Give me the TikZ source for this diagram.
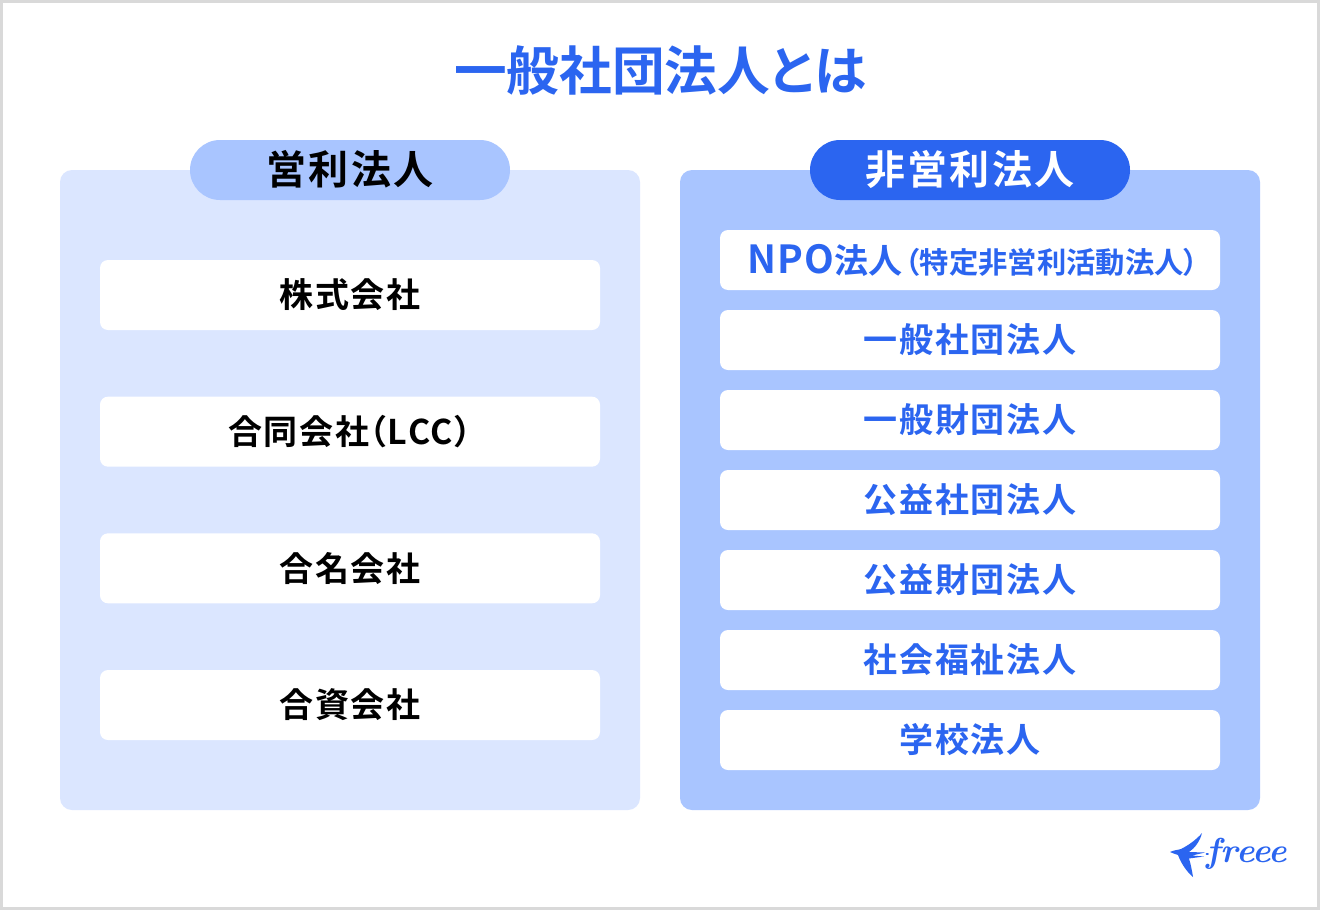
\documentclass[tikz,border=0pt]{standalone}
\usepackage{fontspec}
\setmainfont{Noto Sans CJK JP Bold}[RawFeature=+palt]
\newfontfamily\itemfont{Noto Sans CJK JP Bold}[LetterSpace=5]
\newfontfamily\parenfont{Noto Sans CJK JP Bold}[RawFeature=+palt,LetterSpace=5]
\newfontfamily\npofont{Noto Sans CJK JP Bold}[RawFeature=+palt,LetterSpace=3]
\newfontfamily\headfont{Noto Sans CJK JP Bold}[LetterSpace=6]
\newfontfamily\logofont{Latin Modern Roman}
\definecolor{freeeblue}{HTML}{2B65F0}
\definecolor{panellight}{HTML}{DBE6FF}
\definecolor{panelmid}{HTML}{A9C5FF}
\definecolor{frameline}{HTML}{D9D9D9}
\newcommand{\liftup}[2][0.75pt]{\raisebox{#1}{#2}}
\tikzset{
    panelbox/.style={minimum width=435pt,minimum height=480pt,rounded corners=9pt,inner sep=0pt},
    pillbox/.style={minimum width=240pt,minimum height=45pt,rounded corners=22.5pt,inner sep=0pt},
    leftitem/.style={fill=white,minimum width=375pt,minimum height=52.5pt,rounded corners=6pt,inner sep=0pt},
    rightitem/.style={fill=white,text=freeeblue,minimum width=375pt,minimum height=45pt,rounded corners=6pt,inner sep=0pt}
}
\begin{document}
\begin{tikzpicture}[x=0.75pt,y=-0.75pt]
    \useasboundingbox (0,0) rectangle (1320,910);
    \fill[frameline] (0,0) rectangle (1320,910);
    \fill[white] (3,3) rectangle (1317,907);

    \node[text=freeeblue,inner sep=0pt] (title) at (660,70) {\fontsize{39.5}{39.5}\selectfont 一般社団法人とは};

    % Left panel
    \node[panelbox,fill=panellight] (profit) at (350,490) {};
    \node[pillbox,fill=panelmid] (profithead) at (350,170) {\liftup[3.3pt]{\fontsize{30}{30}\headfont 営利法人}};
    \foreach \name[count=\i] in {株式会社,合同会社{\parenfont（LCC）},合名会社,合資会社}
        \node[leftitem] (left\i) at (350,295+136.67*\i-136.67) {\liftup{\fontsize{25.5}{25.5}\itemfont \name}};

    % Right panel
    \node[panelbox,fill=panelmid] (nonprofit) at (970,490) {};
    \node[pillbox,fill=freeeblue,text=white] (nonprofithead) at (970,170) {\liftup[3.3pt]{\fontsize{30}{30}\headfont 非営利法人}};
    \node[rightitem] (right1) at (970,260) {\hspace{4.5pt}\fontsize{29}{29}\npofont NPO\fontsize{25.5}{25.5}\selectfont\rmfamily 法人\hspace{2pt}\fontsize{22}{22}\selectfont（特定非営利活動法人）};
    \foreach \name[count=\i from 2] in {一般社団法人,一般財団法人,公益社団法人,公益財団法人,社会福祉法人,学校法人}
        \node[rightitem] (right\i) at (970,180+80*\i) {\liftup{\fontsize{25.5}{25.5}\itemfont \name}};

    % Logo
    \fill[freeeblue] (1170,852) .. controls (1174,850) and (1178,850) .. (1181,849)
        .. controls (1189,845) and (1197,839) .. (1202,833)
        .. controls (1200,841) and (1195,848) .. (1189,852)
        -- (1205,852.5) -- (1192,855.5) -- (1204,856.5) -- (1189,858.5)
        .. controls (1191,865) and (1192,871) .. (1193,877)
        .. controls (1186,871) and (1181,863) .. (1178,855)
        .. controls (1175,854) and (1172,853) .. (1170,852) -- cycle;
    \coordinate (logotail) at (1208,854);
    \node[text=freeeblue,inner sep=0pt] (logotext) at (1247,854) {\fontsize{26}{26}\logofont\bfseries\itshape freee};
    \draw[freeeblue,line width=1.2pt,line cap=round] (logotail) -- (logotext.west);
\end{tikzpicture}
\end{document}
